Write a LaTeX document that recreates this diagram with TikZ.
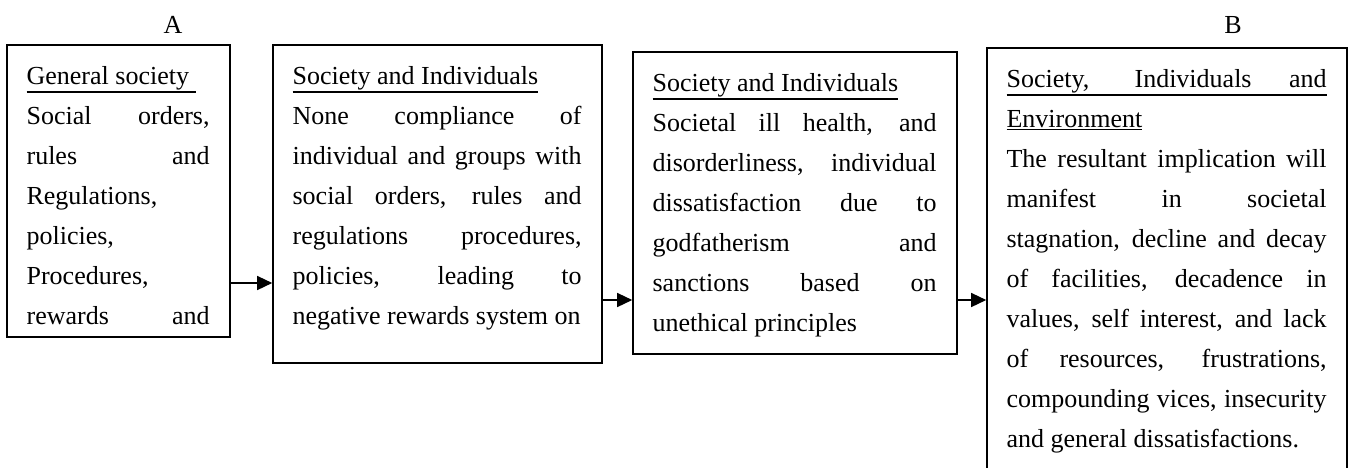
\documentclass[tikz,border=0pt]{standalone}
\usepackage{fontspec}
\setmainfont{Liberation Serif}
\usetikzlibrary{arrows.meta,calc}
\newcommand\stagefont{\fontsize{13}{20}\selectfont\tolerance=10000\hbadness=10000\relax}
\newcommand\headline[1]{\leavevmode\vtop{\hbox{#1}\kern0.8pt\hrule height 0.7pt}}
\tikzset{
  stage/.style={draw,line width=0.8pt,inner sep=0pt},
  stagetext/.style={anchor=base west,inner sep=0pt,align=justify,font=\stagefont},
  flow/.style={-{Triangle[length=7.5pt,width=7pt]},line width=0.7pt}
}

\begin{document}
\begin{tikzpicture}[x=0.5pt,y=-0.5pt]
    \useasboundingbox (0,0) rectangle (1354,467);
    \clip (0,0) rectangle (1354,467);
    \node[font=\stagefont] (lblA) at (173,25) {A};
    \node[font=\stagefont] (lblB) at (1233,25) {B};

    \node[stage,minimum width=111.5pt,minimum height=146pt] (gen) at (118.5,191) {};
    \node[stage,minimum width=164.5pt,minimum height=159pt] (comp) at (437.5,204) {};
    \node[stage,minimum width=162pt,minimum height=151pt] (ill) at (795,203) {};
    \node[stage,minimum width=180pt,minimum height=221pt] (res) at (1167,269) {};

    \node[stagetext,text width=91.5pt] (gentext) at ([shift={(10pt,-20pt)}]gen.north west)
      {\headline{General society\ }\linebreak Social orders,\linebreak rules and\linebreak
       Regulations,\linebreak policies,\linebreak Procedures,\linebreak rewards\hfill and};
    \node[stagetext,text width=144.5pt] (comptext) at ([shift={(10pt,-20pt)}]comp.north west)
      {\headline{Society and Individuals}\linebreak None compliance of\linebreak
       individual and groups with\linebreak social orders, rules and\linebreak
       regulations procedures,\linebreak policies, leading to\linebreak
       negative rewards system on};
    \node[stagetext,text width=142pt] (illtext) at ([shift={(10pt,-20pt)}]ill.north west)
      {\headline{Society and Individuals}\linebreak Societal ill health, and\linebreak
       disorderliness, individual\linebreak dissatisfaction due to\linebreak
       godfatherism and\linebreak sanctions based on\linebreak unethical principles};
    \node[stagetext,text width=160pt] (restext) at ([shift={(10pt,-20pt)}]res.north west)
      {\headline{\makebox[160pt][s]{Society, Individuals and}}\linebreak
       \headline{Environment}\linebreak The resultant implication will\linebreak
       manifest in societal\linebreak stagnation, decline and decay\linebreak
       of facilities, decadence in\linebreak values, self interest, and lack\linebreak
       of resources, frustrations,\linebreak compounding vices, insecurity\linebreak
       and general dissatisfactions.};

    \coordinate (gentail) at ([yshift=-46pt]gen.east);
    \coordinate (comptail) at ([yshift=-48pt]comp.east);
    \coordinate (illtail) at ([yshift=-48.5pt]ill.east);
    \draw[flow] (gentail) -- (gentail -| comp.west);
    \draw[flow] (comptail) -- (comptail -| ill.west);
    \draw[flow] (illtail) -- (illtail -| res.west);
\end{tikzpicture}
\end{document}
